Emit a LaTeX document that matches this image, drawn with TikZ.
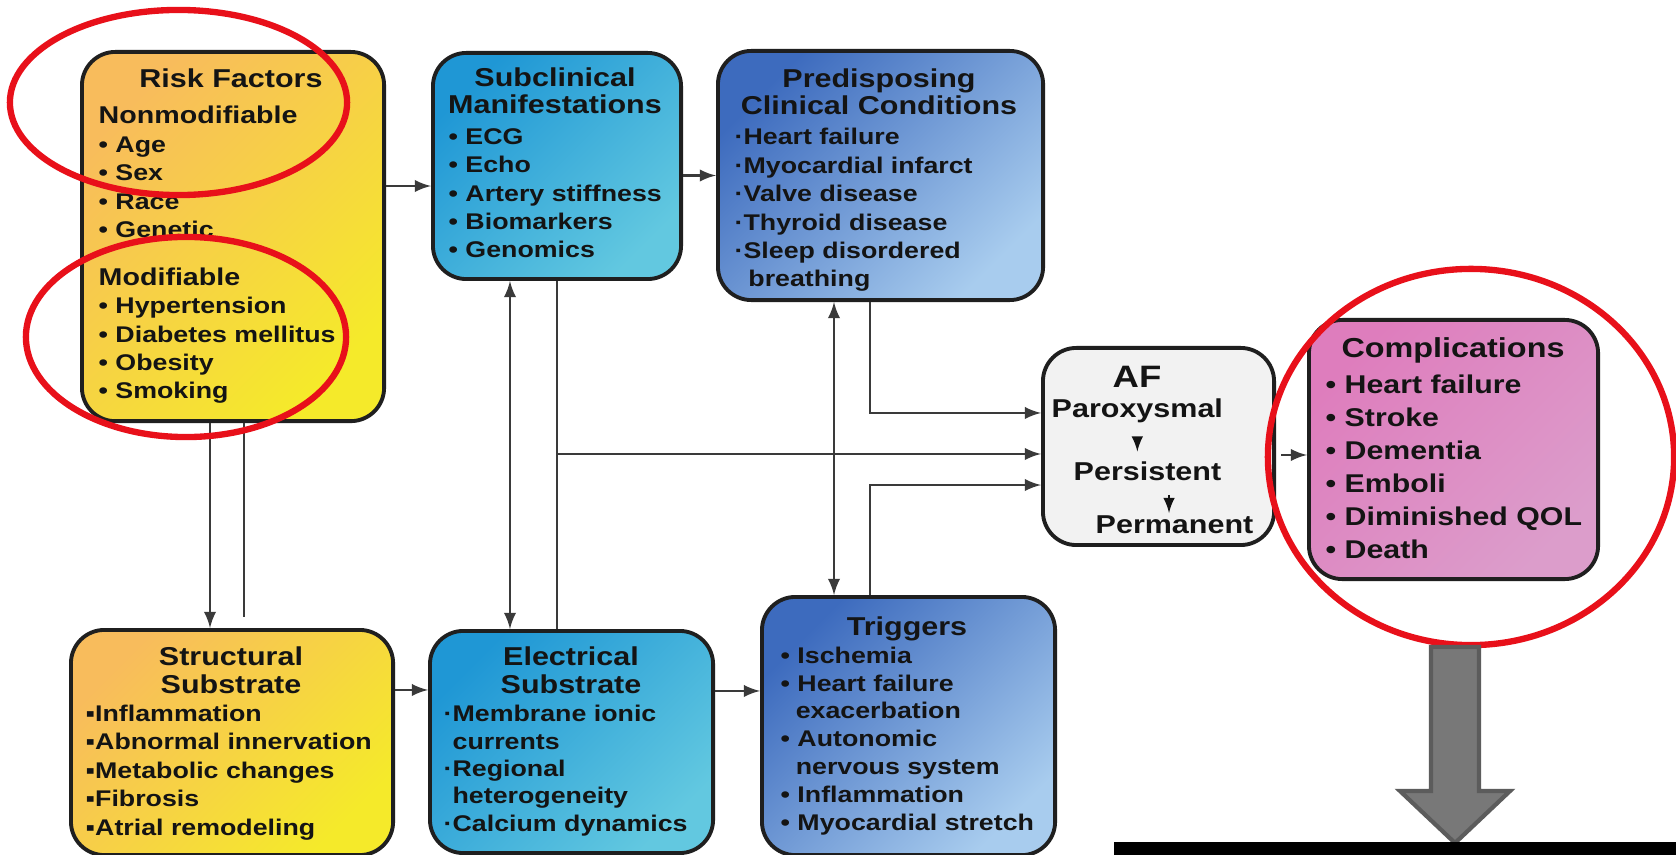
\documentclass[tikz,border=0pt]{standalone}
\usepackage{fontspec}
\setmainfont{Liberation Sans}[FakeStretch=1.18]
\usetikzlibrary{arrows,positioning}

\definecolor{boxline}{HTML}{1F1F1F}
\definecolor{linkgray}{HTML}{3A3A3A}
\definecolor{inkblack}{HTML}{141414}
\definecolor{riskorange}{HTML}{F8BC5C}
\definecolor{riskyellow}{HTML}{F5EA2A}
\definecolor{subdark}{HTML}{1F97D5}
\definecolor{sublight}{HTML}{62C8E0}
\definecolor{preddark}{HTML}{3D6BBE}
\definecolor{predlight}{HTML}{A8CCEE}
\definecolor{afgray}{HTML}{F2F2F2}
\definecolor{compdark}{HTML}{DE7DBD}
\definecolor{complight}{HTML}{DC9DCB}
\definecolor{ringred}{HTML}{E8101A}
\definecolor{bigarrowfill}{HTML}{787878}
\definecolor{bigarrowline}{HTML}{5C5C5C}

\begin{document}
\begin{tikzpicture}[
  x=0.01cm, y=-0.01cm,
  box/.style={draw=boxline, line width=1.1pt, rounded corners=9.5pt, anchor=north west, inner sep=0pt},
  yellowbox/.style={top color=riskorange, bottom color=riskyellow, shading angle=45},
  cyanbox/.style={top color=subdark, bottom color=sublight, shading angle=45},
  bluebox/.style={top color=preddark, bottom color=predlight, shading angle=45},
  pinkbox/.style={top color=compdark, bottom color=complight, shading angle=45},
  head/.style={font=\bfseries\fontsize{7.35}{7.9}\selectfont, align=center, inner sep=0pt, anchor=base, text=inkblack},
  items/.style={font=\bfseries\fontsize{6.45}{8.1}\selectfont, align=left, inner sep=0pt, anchor=base west, text=inkblack},
  stage/.style={font=\bfseries\fontsize{7.35}{7.9}\selectfont, inner sep=0pt, anchor=base west, text=inkblack},
  link/.style={draw=linkgray, line width=0.6pt, >=latex},
  tiny/.style={draw=inkblack, line width=0.5pt, ->, >=latex},
  ring/.style={draw=ringred, line width=1.8pt}
]
  \fill[white] (0,0) rectangle (1676,855);
  \useasboundingbox (0,0) rectangle (1676,855);

  \node[box, yellowbox, minimum width=3.02cm, minimum height=3.69cm] (risk) at (80,50) {};
  \node[box, cyanbox, minimum width=2.48cm, minimum height=2.26cm] (subcl) at (431,51) {};
  \node[box, bluebox, minimum width=3.25cm, minimum height=2.49cm] (predis) at (716,49) {};
  \node[box, fill=afgray, minimum width=2.31cm, minimum height=1.97cm] (af) at (1041,346) {};
  \node[box, pinkbox, minimum width=2.89cm, minimum height=2.59cm] (compl) at (1307,318) {};
  \node[box, yellowbox, minimum width=3.22cm, minimum height=2.25cm] (struct) at (69,628) {};
  \node[box, cyanbox, minimum width=2.83cm, minimum height=2.22cm] (elec) at (428,629) {};
  \node[box, bluebox, minimum width=2.93cm, minimum height=2.58cm] (trig) at (760,595) {};

  \node[head] (riskhead) at (231,88) {Risk Factors};
  \node[items] (riskitems) at (98,399) {{\fontsize{6.9}{8.1}\selectfont Nonmodifiable}\\• Age\\• Sex\\• Race\\• Genetic\\[5.3pt]{\fontsize{6.9}{8.1}\selectfont Modifiable}\\• Hypertension\\• Diabetes mellitus\\• Obesity\\• Smoking};
  \node[head] (subclhead) at (555,114) {Subclinical\\Manifestations};
  \node[items] (subclitems) at (448,258) {• ECG\\• Echo\\• Artery stiffness\\• Biomarkers\\• Genomics};
  \node[head] (predishead) at (879,115) {Predisposing\\Clinical Conditions};
  \node[items] (predisitems) at (734,287) {·Heart failure\\·Myocardial infarct\\·Valve disease\\·Thyroid disease\\·Sleep disordered\\\hspace{3.9pt}breathing};
  \node[head] (structhead) at (231,693) {Structural\\Substrate};
  \node[items] (structitems) at (85,835) {▪Inflammation\\▪Abnormal innervation\\▪Metabolic changes\\▪Fibrosis\\▪Atrial remodeling};
  \node[head] (elechead) at (571,693) {Electrical\\Substrate};
  \node[items, font=\bfseries\fontsize{6.45}{7.75}\selectfont] (elecitems) at (443,831) {·Membrane ionic\\\phantom{·}currents\\·Regional\\\phantom{·}heterogeneity\\·Calcium dynamics};
  \node[head] (trighead) at (907,635) {Triggers};
  \node[items, font=\bfseries\fontsize{6.45}{7.9}\selectfont] (trigitems) at (780,830) {• Ischemia\\• Heart failure\\\hspace{4.3pt}exacerbation\\• Autonomic\\\hspace{4.3pt}nervous system\\• Inflammation\\• Myocardial stretch};
  \node[head, font=\bfseries\fontsize{7.8}{9}\selectfont] (complhead) at (1453,358) {Complications};
  \node[items, font=\bfseries\fontsize{7.3}{9.33}\selectfont] (complitems) at (1325,558) {• Heart failure\\• Stroke\\• Dementia\\• Emboli\\• Diminished QOL\\• Death};

  \node[head, font=\bfseries\fontsize{8.8}{9}\selectfont] (afhead) at (1137,387) {AF};
  \node[stage] (parox) at (1051,418) {Paroxysmal};
  \node[stage] (persist) at (1073,480) {Persistent};
  \node[stage] (perm) at (1095,533) {Permanent};
  \draw[tiny, shorten <=1.3mm, shorten >=0.9mm] (parox.south) -- (parox.south |- persist.north);
  \draw[tiny, shorten <=1.4mm, shorten >=0.15mm] ([xshift=-0.55mm]perm.north |- persist.south) -- ([xshift=-0.55mm]perm.north);

  \draw[link,->] ([yshift=5.05mm]risk.east) -- ([yshift=5.05mm]risk.east -| subcl.west);
  \draw[link,->] (predis.west -| subcl.east) -- (predis.west);
  \draw[link,->] ([xshift=-2.3mm]risk.south) -- ([xshift=-2.3mm]risk.south |- struct.north);
  \draw[link] ([xshift=1.1mm]risk.south) -- ([xshift=1.1mm,yshift=1.1mm]risk.south |- struct.north);
  \draw[link,<->] ([xshift=-4.7mm]subcl.south) -- ([xshift=-4.7mm]subcl.south |- elec.north);
  \draw[link] (subcl.south) -- (subcl.south |- elec.north);
  \draw[link,->] ([yshift=-0.75mm]af.west -| subcl.south) -- ([yshift=-0.75mm]af.west);
  \draw[link,<->] ([xshift=-4.65mm]predis.south) -- ([xshift=-4.65mm]predis.south |- trig.north);
  \draw[link,->] ([xshift=-1.05mm]predis.south) |- ([yshift=3.35mm]af.west);
  \draw[link,->] ([xshift=-3.85mm]trig.north) |- ([yshift=-3.85mm]af.west);
  \draw[link,->] ([yshift=5.1mm]elec.east) -- ([yshift=5.1mm]elec.east -| trig.west);
  \draw[link,->] ([yshift=5.25mm]struct.east) -- ([yshift=5.25mm]struct.east -| elec.west);
  \draw[link,->,shorten <=0.5mm] ([yshift=-0.85mm]af.east) -- ([yshift=-0.85mm]af.east -| compl.west);

  \draw[ring] (178.5,102.5) ellipse [x radius=1.685cm, y radius=0.925cm];
  \draw[ring] (186,337) ellipse [x radius=1.60cm, y radius=1.0cm];
  \draw[ring] (1471,457) ellipse [x radius=2.03cm, y radius=1.88cm];

  \draw[fill=bigarrowfill, draw=bigarrowline, line width=1.2pt] (1431,647) -- (1479,647) -- (1479,791) -- (1510,791) -- (1455,843) -- (1400,791) -- (1431,791) -- cycle;
  \fill[black] (1114,842) rectangle (1676,855);
\end{tikzpicture}
\end{document}
